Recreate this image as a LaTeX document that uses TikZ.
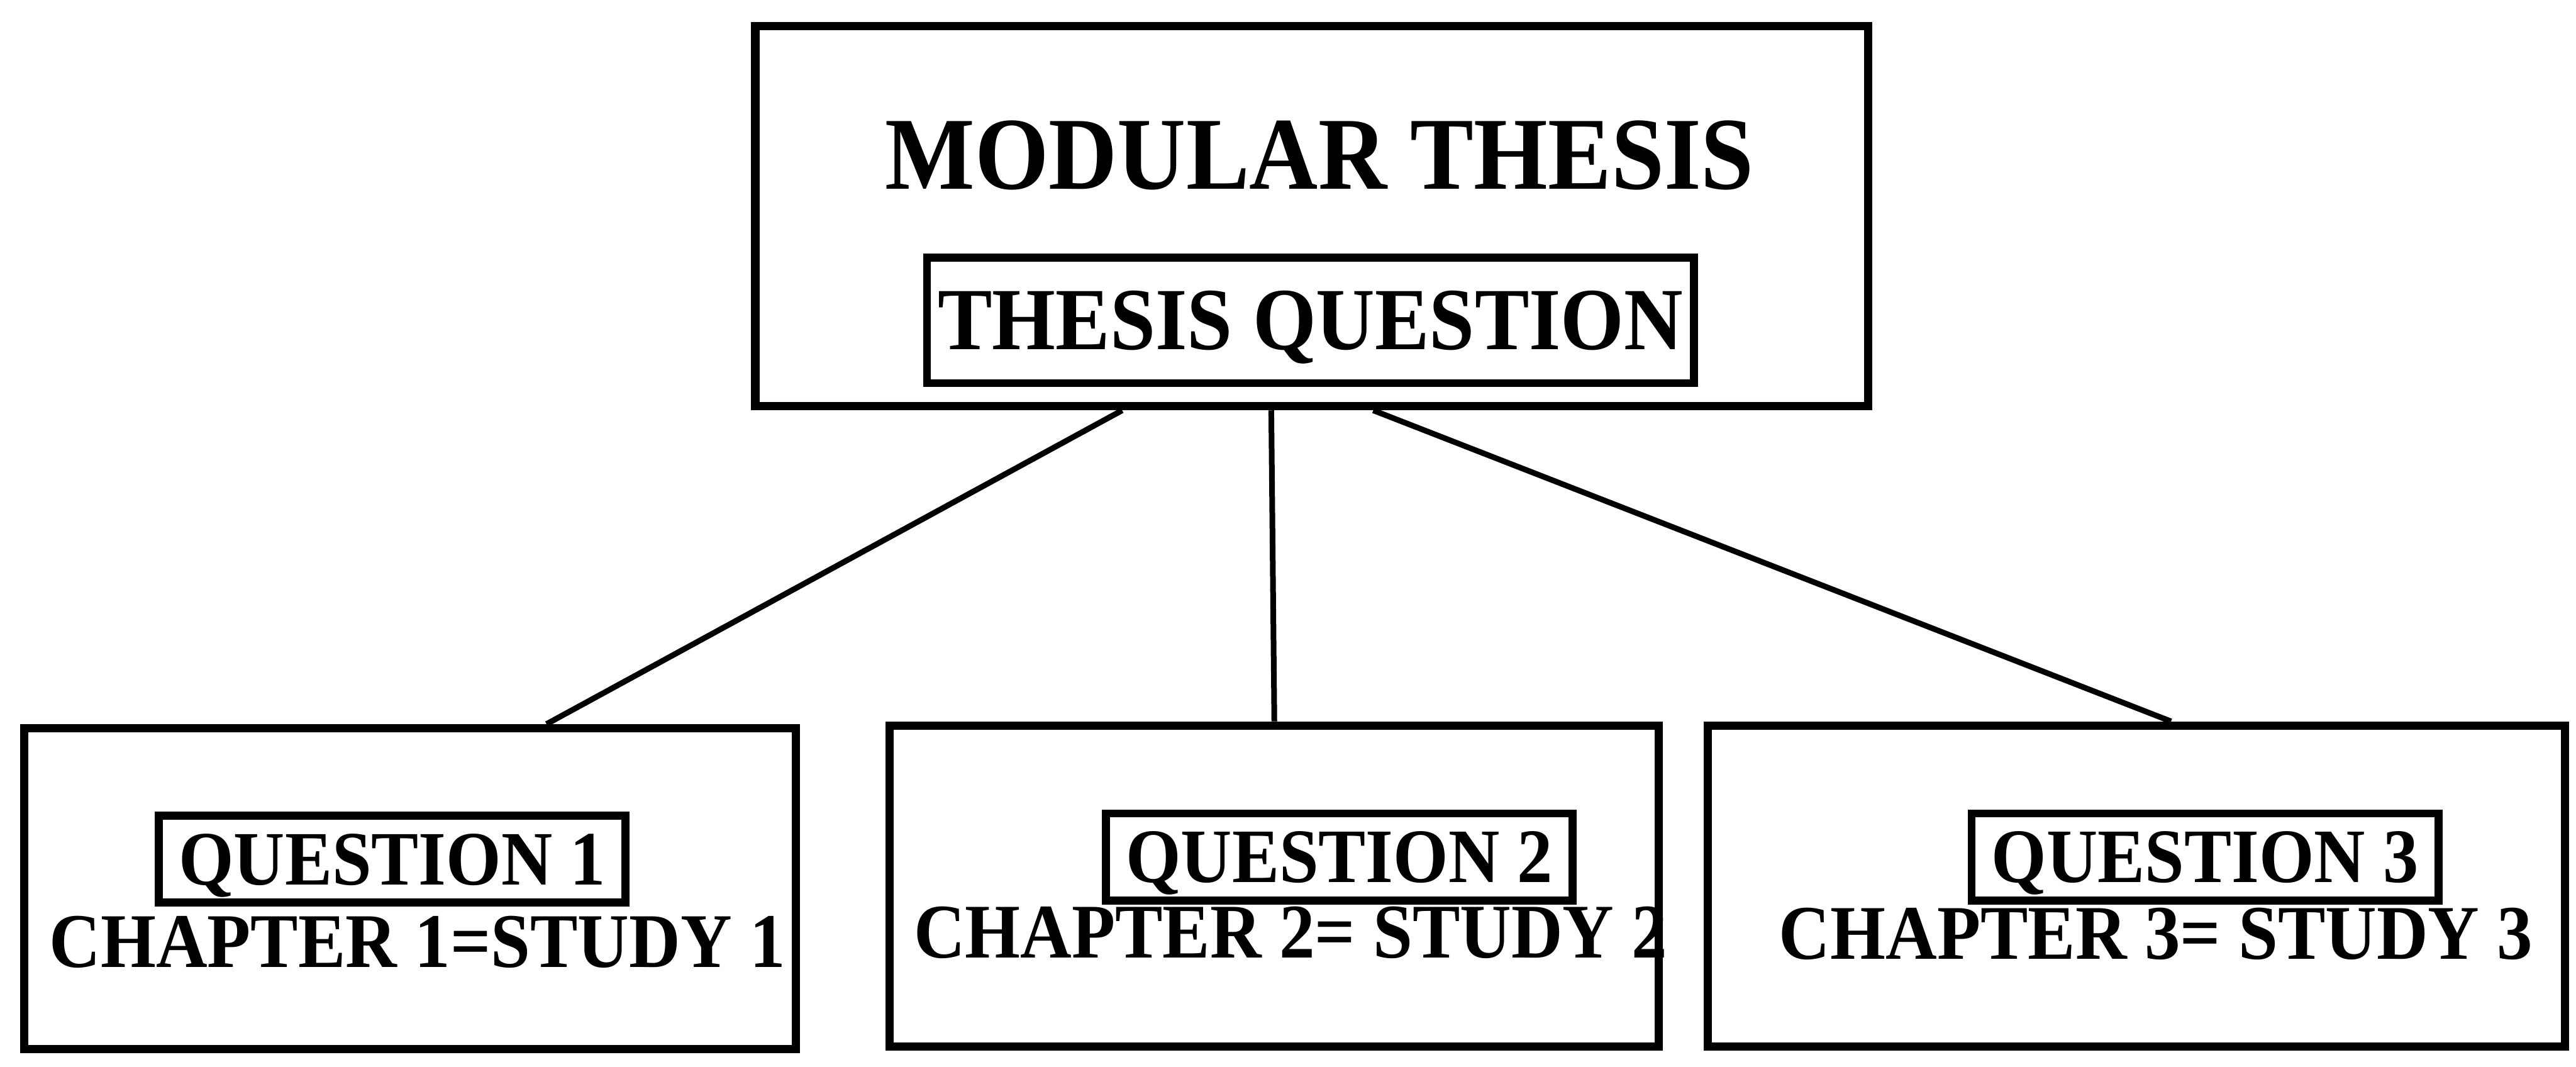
\documentclass[tikz,border=0pt]{standalone}
\usepackage{fontspec}
\newfontfamily\diagfont{Liberation Serif}[FakeStretch=0.92]
\usepackage{tikz}
\usetikzlibrary{calc}
\tikzset{
  thesisBox/.style={
    draw,
    line width=2.2pt,
    minimum width=10.37cm,
    minimum height=3.54cm,
    inner sep=0pt
  },
  studyBox/.style={
    draw,
    line width=2.2pt,
    minimum height=2.99cm,
    inner sep=0pt
  },
  questionBox/.style={
    draw,
    line width=2.1pt,
    inner sep=0pt,
    text depth=0pt,
    minimum width=4.35cm,
    minimum height=0.81cm,
    font=\diagfont\bfseries\fontsize{20.4}{24}\selectfont
  },
  titleText/.style={
    anchor=base,
    inner sep=0pt,
    font=\diagfont\bfseries\fontsize{27.4}{32}\selectfont
  },
  chapterText/.style={
    anchor=base,
    inner sep=0pt,
    font=\diagfont\bfseries\fontsize{20.5}{24}\selectfont
  },
  linkLine/.style={line width=1.5pt}
}

\begin{document}
\begin{tikzpicture}[x=1cm,y=1cm]
  \useasboundingbox (0,0) rectangle (24.01,9.94);

  % top box
  \node[thesisBox] (thesis) at (12.225,7.925) {};
  \node[titleText] (title) at (12.30,8.18) {MODULAR THESIS};
  \node[questionBox, minimum width=7.15cm, minimum height=1.17cm,
    font=\diagfont\bfseries\fontsize{23.5}{28}\selectfont]
    (tq) at (12.215,6.955) {THESIS QUESTION};

  % studies
  \node[studyBox, minimum width=7.19cm] (s1) at (3.8225,1.66) {};
  \node[studyBox, minimum width=7.17cm] (s2) at (11.8775,1.685) {};
  \node[studyBox, minimum width=7.99cm] (s3) at (19.9125,1.685) {};

  \node[questionBox] (q1) at (3.655,1.935) {QUESTION 1};
  \node[questionBox] (q2) at (12.4825,1.955) {QUESTION 2};
  \node[questionBox] (q3) at (20.5525,1.955) {QUESTION 3};

  \node[chapterText] (c1) at (3.89,0.93) {CHAPTER 1=STUDY 1};
  \node[chapterText] (c2) at (12.03,1.015) {CHAPTER 2= STUDY 2};
  \node[chapterText] (c3) at (20.095,1.005) {CHAPTER 3= STUDY 3};

  \foreach \i/\a/\b in {1/0.331/0.675, 2/0.464/0.5, 3/0.555/0.54} {
    \draw[linkLine] ($(thesis.south west)!\a!(thesis.south east)$)
      -- ($(s\i.north west)!\b!(s\i.north east)$);
  }
\end{tikzpicture}
\end{document}
